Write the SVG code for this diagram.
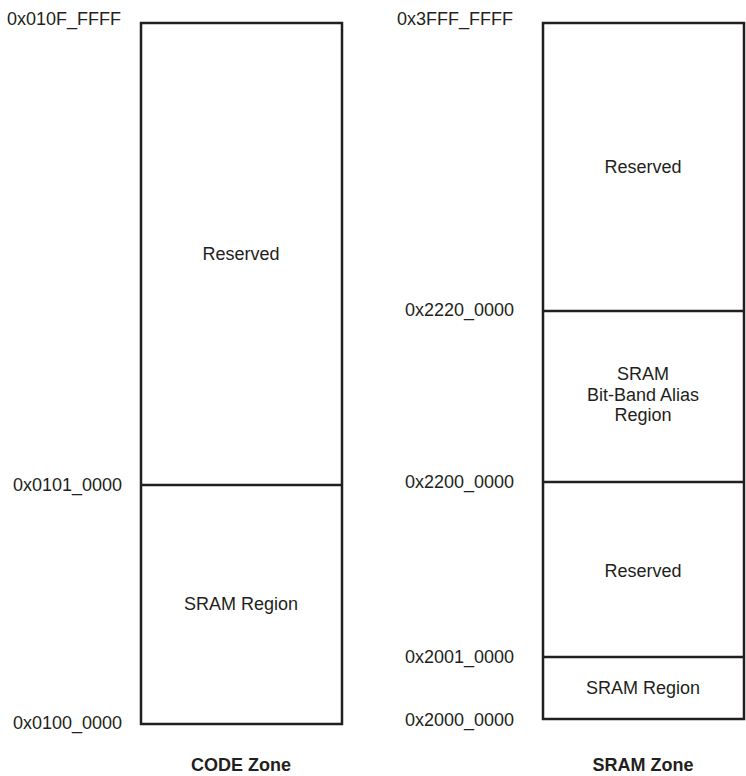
<svg xmlns="http://www.w3.org/2000/svg" width="746" height="776" viewBox="0 0 746 776">
<style>
.box{fill:#fff;stroke:#231f20;stroke-width:2.5}
.div{stroke:#231f20;stroke-width:2.5}
text{font-family:"Liberation Sans",Arial,sans-serif;font-size:18px;fill:#231f20}
.c{text-anchor:middle}
.b{font-weight:bold}
</style>
<rect width="746" height="776" fill="#fff"/>
<g id="code-zone">
<rect class="box" x="141" y="23" width="201" height="701"/>
<line class="div" x1="141" y1="485" x2="342" y2="485"/>
<text x="7" y="25">0x010F_FFFF</text>
<text x="13" y="491">0x0101_0000</text>
<text x="13" y="729">0x0100_0000</text>
<text class="c" x="241" y="260">Reserved</text>
<text class="c" x="241" y="610">SRAM Region</text>
<text class="c b" x="241" y="771">CODE Zone</text>
</g>
<g id="sram-zone">
<rect class="box" x="543" y="23" width="201" height="696"/>
<line class="div" x1="543" y1="311" x2="744" y2="311"/>
<line class="div" x1="543" y1="482" x2="744" y2="482"/>
<line class="div" x1="543" y1="657" x2="744" y2="657"/>
<text x="397" y="25">0x3FFF_FFFF</text>
<text x="405" y="316">0x2220_0000</text>
<text x="405" y="488">0x2200_0000</text>
<text x="405" y="663">0x2001_0000</text>
<text x="405" y="726">0x2000_0000</text>
<text class="c" x="643" y="173">Reserved</text>
<text class="c" x="643" y="380">SRAM</text>
<text class="c" x="643" y="401">Bit-Band Alias</text>
<text class="c" x="643" y="421">Region</text>
<text class="c" x="643" y="577">Reserved</text>
<text class="c" x="643" y="694">SRAM Region</text>
<text class="c b" x="643" y="771">SRAM Zone</text>
</g>
</svg>
